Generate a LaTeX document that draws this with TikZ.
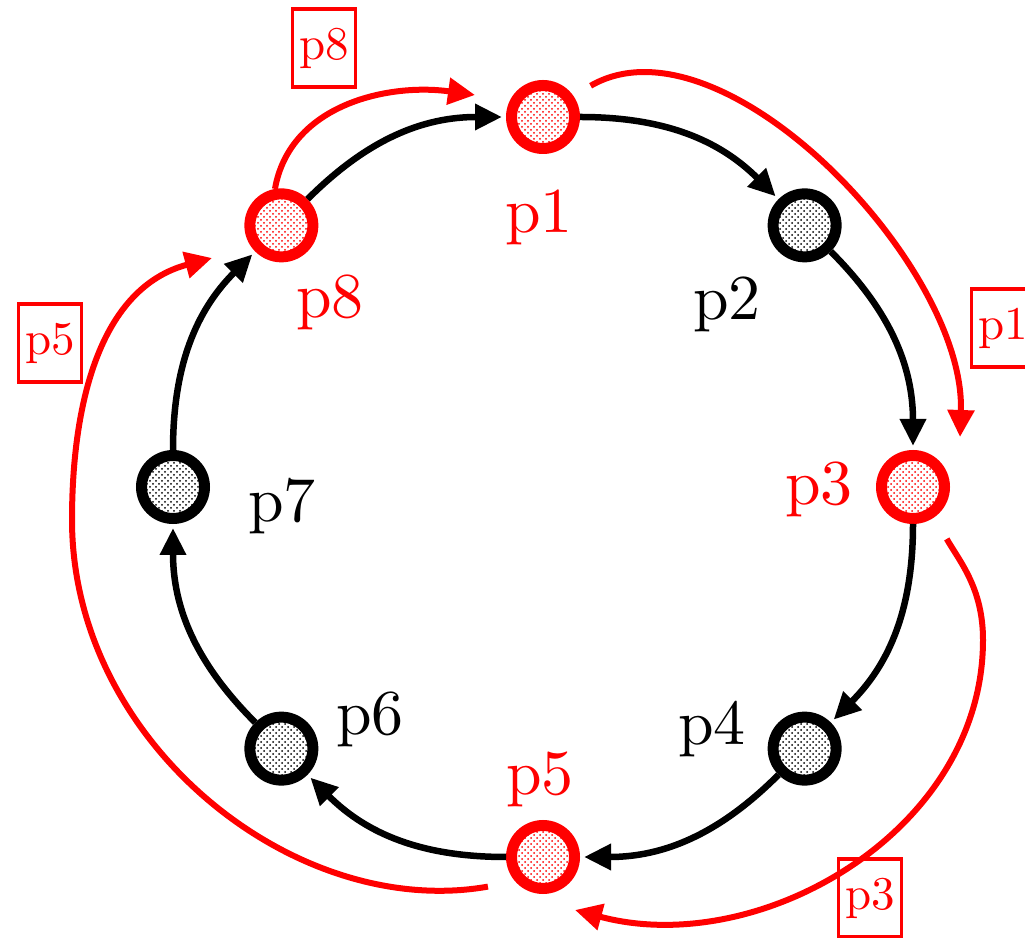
\documentclass[tikz,border=0pt]{standalone}
\usetikzlibrary{arrows.meta,patterns.meta,calc}
\tikzdeclarepattern{
  name=sdots,
  type=uncolored,
  bounding box={(-1.5pt,-1.5pt) and (4.5pt,4.5pt)},
  tile size={(6pt,6pt)},
  code={\fill (0pt,0pt) circle (1pt); \fill (3pt,3pt) circle (1pt);}
}
\font\biglabfont="[lmroman10-regular.otf]" at 64pt
\font\boxlabfont="[lmroman10-regular.otf]" at 47pt
\begin{document}
\begin{tikzpicture}[x=1pt,y=1pt,
  pnode/.style={circle,minimum size=63pt,inner sep=0pt,line width=11pt,draw=#1,pattern=sdots,pattern color=#1},
  blk/.style={line width=6.5pt,shorten >=4pt,-{Triangle[length=27pt,width=25pt]}},
  redarr/.style={red,line width=6pt,-{Triangle[length=27pt,width=26pt]}},
  lab/.style={font=\biglabfont,anchor=base,inner sep=0pt},
  boxlab/.style={draw=red,text=red,line width=3.2pt,font=\boxlabfont,minimum width=63pt,minimum height=78pt,inner sep=0pt}
]
\useasboundingbox (0,0) rectangle (1025,937);
\coordinate (C) at (543,450);
% nodes
\node[pnode=red]   (p1) at ($(C)+(90:370)$) {};
\node[pnode=black] (p2) at ($(C)+(45:370)$) {};
\node[pnode=red]   (p3) at ($(C)+(0:370)$) {};
\node[pnode=black] (p4) at ($(C)+(-45:370)$) {};
\node[pnode=red]   (p5) at ($(C)+(-90:370)$) {};
\node[pnode=black] (p6) at ($(C)+(-135:370)$) {};
\node[pnode=black] (p7) at ($(C)+(180:370)$) {};
\node[pnode=red]   (p8) at ($(C)+(135:370)$) {};
% labels
\node[lab,text=red] (l1) at (539,704) {p1};
\node[lab]          (l2) at (727,617) {p2};
\node[lab,text=red] (l3) at (819,432) {p3};
\node[lab]          (l4) at (712,192) {p4};
\node[lab,text=red] (l5) at (540,142) {p5};
\node[lab]          (l6) at (370,202) {p6};
\node[lab]          (l7) at (282,415) {p7};
\node[lab,text=red] (l8) at (330,619) {p8};
% ring edges
\draw[blk] (p1) to[bend left=22.5] (p2);
\draw[blk] (p2) to[bend left=22.5] (p3);
\draw[blk] (p3) to[bend left=22.5] (p4);
\draw[blk] (p4) to[bend left=22.5] (p5);
\draw[blk] (p5) to[bend left=22.5] (p6);
\draw[blk] (p6) to[bend left=22.5] (p7);
\draw[blk] (p7) to[bend left=22.5] (p8);
\draw[blk] (p8) to[bend left=22.5] (p1);
% boxed labels
\node[boxlab] (b8) at (324,889) {p8};
\node[boxlab] (b1) at (1003,609) {p1};
\node[boxlab] (b3) at (870,39) {p3};
\node[boxlab] (b5) at (50,594) {p5};
% red jumps
\coordinate (t8) at (475,842);
\draw[redarr] (p8.100) to[out=80,in=172] (t8);
\coordinate (t1) at (960,500);
\draw[redarr,shorten <=20pt] (p1.35) to[out=30,in=88,looseness=0.85] (t1);
\coordinate (v3) at (983,297);
\coordinate (t3) at (575,27);
\draw[redarr,shorten <=25pt] (p3.-55) to[out=-60,in=90] (v3) to[out=-90,in=-15] (t3);
\coordinate (v5) at (72,417);
\coordinate (t5) at (212,679);
\draw[redarr,shorten <=28pt] (p5.-138) to[out=-170,in=-90] (v5) to[out=90,in=-165] (t5);
\end{tikzpicture}
\end{document}
